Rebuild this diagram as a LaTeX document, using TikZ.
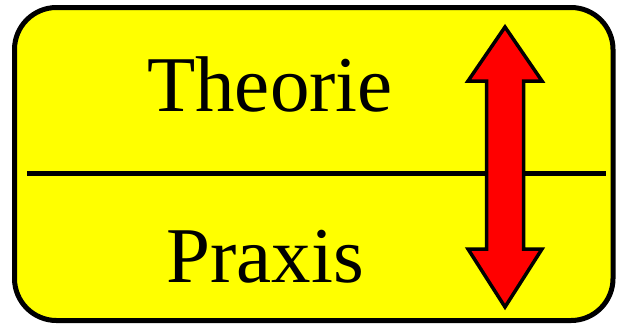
\documentclass[tikz,border=0pt]{standalone}
\usepackage{fontspec}
\setmainfont{Liberation Serif}
\definecolor{pureyellow}{RGB}{255,255,0}
\definecolor{purered}{RGB}{255,0,0}
\begin{document}
\begin{tikzpicture}[x=1bp,y=-1bp,
  panel/.style={draw=black,line width=5bp,fill=pureyellow,rounded corners=42bp},
  divider/.style={draw=black,line width=5bp},
  label/.style={inner sep=0pt,anchor=base,font=\fontsize{79bp}{80bp}\selectfont},
  dblarrow/.style={draw=black,line width=3.5bp,fill=purered,line join=miter}]
\useasboundingbox (0,0) rectangle (618,325);
\path[panel] (14.5,7.5) rectangle (613,320.5);
\coordinate (dl) at (27,173.5);
\coordinate (dr) at (606,173.5);
\draw[divider] (dl) -- (dr);
\node[label] (theorie) at (270,111) {Theorie};
\node[label] (praxis) at (265,282) {Praxis};
\path[dblarrow] (505,27) -- (542,81) -- (523.5,81) -- (523.5,249) -- (542,249)
  -- (505,307) -- (468,249) -- (486.5,249) -- (486.5,81) -- (468,81) -- cycle;
\end{tikzpicture}
\end{document}
